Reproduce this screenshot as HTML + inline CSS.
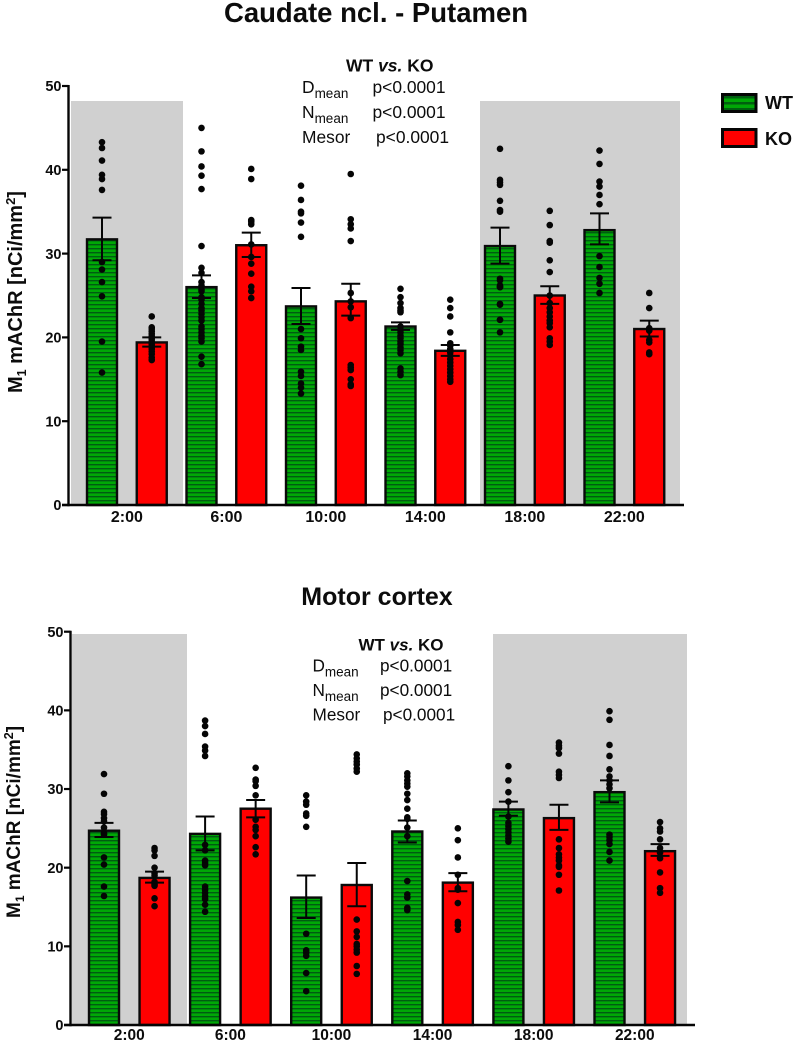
<!DOCTYPE html>
<html lang="en">
<head>
<meta charset="utf-8">
<title>M1 mAChR binding in WT and KO</title>
<style>
html,body{margin:0;padding:0;background:#fff}
svg{display:block}
text{font-family:"Liberation Sans",Arial,sans-serif;fill:#0c0c0c}
.b{font-weight:bold}
</style>
</head>
<body>
<svg id="fig" xmlns="http://www.w3.org/2000/svg" width="796" height="1042" viewBox="0 0 796 1042">
<defs>
<pattern id="stripes" patternUnits="userSpaceOnUse" width="8" height="4">
<rect width="8" height="4" fill="#00a806"/>
<rect width="8" height="1.4" fill="#005c12"/>
</pattern>
<pattern id="stripes-legend" patternUnits="userSpaceOnUse" width="8" height="6" y="96">
<rect width="8" height="6" fill="#00a806"/>
<rect width="8" height="2.5" fill="#00600f"/>
</pattern>
</defs>
<g id="top-chart"></g>
<g id="bottom-chart"></g>

<text class="b" x="376" y="22" text-anchor="middle" font-size="27.5">Caudate ncl. - Putamen</text>
<text class="b" x="377" y="605" text-anchor="middle" font-size="25">Motor cortex</text>

<text class="b" transform="translate(22,393) rotate(-90)" font-size="20">M<tspan font-size="12.5" dy="4">1</tspan><tspan dy="-4"> mAChR [nCi/mm</tspan><tspan font-size="13" dy="-7">2</tspan><tspan dy="7">]</tspan></text>
<text class="b" transform="translate(20,918) rotate(-90)" font-size="19">M<tspan font-size="12" dy="4">1</tspan><tspan dy="-4"> mAChR [nCi/mm</tspan><tspan font-size="12.5" dy="-7">2</tspan><tspan dy="7">]</tspan></text>

<g font-size="17.4">
<text class="b" x="346" y="71.5" font-size="17.5">WT <tspan font-style="italic">vs.</tspan> KO</text>
<text x="302" y="93">D<tspan font-size="13.5" dy="5">mean</tspan></text><text x="372.5" y="93">p&lt;0.0001</text>
<text x="302" y="118">N<tspan font-size="13.5" dy="5">mean</tspan></text><text x="372.5" y="118">p&lt;0.0001</text>
<text x="302" y="143">Mesor</text><text x="376" y="143">p&lt;0.0001</text>
</g>
<g font-size="17.2">
<text class="b" x="358.5" y="650.5" font-size="17">WT <tspan font-style="italic">vs.</tspan> KO</text>
<text x="312.5" y="671.5">D<tspan font-size="13.5" dy="5">mean</tspan></text><text x="380" y="671.5">p&lt;0.0001</text>
<text x="312.5" y="696">N<tspan font-size="13.5" dy="5">mean</tspan></text><text x="380" y="696">p&lt;0.0001</text>
<text x="312.5" y="720.5">Mesor</text><text x="383" y="720.5">p&lt;0.0001</text>
</g>

<g>
<rect x="722.5" y="94.5" width="33.5" height="17" fill="url(#stripes-legend)" stroke="#050505" stroke-width="3"/>
<text class="b" x="765" y="109" font-size="18">WT</text>
<rect x="722.5" y="129.5" width="33.5" height="17" fill="#ff0000" stroke="#050505" stroke-width="3"/>
<text class="b" x="765" y="145" font-size="18">KO</text>
</g>
</svg>

<script>
const categories = ["2:00", "6:00", "10:00", "14:00", "18:00", "22:00"];
const yTicks = [0, 10, 20, 30, 40, 50];

/* Caudate ncl. - Putamen */
const cpWtMeans = [31.7, 26.0, 23.7, 21.3, 30.9, 32.8];
const cpKoMeans = [19.4, 31.0, 24.3, 18.4, 25.0, 21.0];
const cpWtErrUpper = [34.3, 27.4, 25.9, 21.8, 33.1, 34.8];
const cpWtErrLower = [29.2, 24.7, 21.6, 20.9, 28.8, 31.1];
const cpKoErrUpper = [20.0, 32.5, 26.4, 19.1, 26.1, 22.0];
const cpKoErrLower = [18.9, 29.6, 22.6, 17.8, 24.0, 20.1];
const cpWtDots = [
  [43.3,42.6,41.1,39.4,38.9,37.6,29.0,28.1,26.6,24.9,19.5,15.8],
  [45.0,42.2,40.4,39.3,37.7,30.9,28.3,27.7,26.6,26.2,25.7,25.5,24.8,24.5,24.0,23.5,23.2,22.8,22.4,22.0,21.3,21.0,20.6,20.2,19.9,19.5,17.7,16.8],
  [38.1,36.4,35.0,34.8,33.7,32.0,21.0,19.9,18.9,18.5,15.9,15.4,14.5,14.0,13.3],
  [25.8,24.8,24.1,23.5,23.2,23.0,21.3,20.9,20.6,20.2,19.9,19.5,19.2,18.8,18.5,18.1,16.3,15.9,15.5],
  [42.5,38.8,38.5,38.2,36.3,35.2,35.0,27.0,26.2,26.0,24.0,22.1,26.8,26.0,23.9,22.1,20.6],
  [42.3,40.7,38.6,38.0,37.0,35.9,29.7,28.4,27.1,26.4,25.3]
];
const cpKoDots = [
  [22.5,21.2,21.0,20.7,20.4,20.1,19.8,19.5,19.2,18.9,18.6,18.3,18.0,17.6,17.3],
  [40.1,38.9,34.0,33.8,33.5,31.1,29.6,28.8,27.6,26.05,25.5,24.7],
  [39.5,34.1,33.5,33.0,31.5,25.3,24.3,23.6,22.3,16.7,16.4,16.1,15.0,14.4,14.2],
  [24.5,23.5,22.5,20.6,19.3,19.0,18.6,18.2,17.8,17.4,17.0,16.6,16.2,15.8,15.4,15.0,14.7],
  [35.1,33.4,31.5,31.3,29.2,27.8,25.0,24.1,23.5,23.0,22.5,22.0,21.7,21.2,19.9,19.5,19.1],
  [25.3,23.5,21.1,20.8,19.7,19.4,18.2,18.0]
];

/* Motor cortex */
const mcWtMeans = [24.7, 24.3, 16.2, 24.6, 27.4, 29.6];
const mcKoMeans = [18.7, 27.5, 17.8, 18.1, 26.3, 22.1];
const mcWtErrUpper = [25.7, 26.5, 19.0, 26.0, 28.4, 31.1];
const mcWtErrLower = [23.9, 22.2, 13.6, 23.2, 26.6, 28.3];
const mcKoErrUpper = [19.5, 28.6, 20.6, 19.3, 28.0, 23.0];
const mcKoErrLower = [18.1, 26.4, 15.1, 17.0, 24.8, 21.5];
const mcWtDots = [
  [31.9,29.4,27.1,26.8,26.3,25.9,25.1,24.4,24.2,21.3,20.4,17.6,16.4],
  [38.7,38.0,37.0,35.4,34.9,34.2,22.9,22.2,20.9,20.6,20.3,17.6,17.2,16.8,16.4,16.0,15.3,14.4],
  [29.2,28.4,28.0,26.9,26.6,25.2,11.6,9.5,9.2,8.8,6.6,4.3],
  [32.0,31.6,31.1,30.7,30.3,29.4,28.6,27.5,26.4,26.2,25.1,24.0,18.3,16.6,16.2,14.9,14.6],
  [32.9,31.1,29.6,28.4,26.5,25.7,25.3,24.9,24.5,24.1,23.7,23.3],
  [39.9,38.8,35.6,34.2,32.5,31.6,31.1,30.6,30.1,24.2,23.9,23.5,23.0,22.0,20.9]
];
const mcKoDots = [
  [22.5,22.2,21.5,20.0,19.3,19.0,18.2,17.9,17.7,16.1,15.1],
  [32.7,31.2,31.0,30.4,29.2,26.1,25.2,24.8,24.0,22.6,21.7],
  [34.4,33.9,33.5,33.1,32.6,32.2,13.4,11.9,11.2,10.3,10.0,9.6,9.2,7.5,6.5],
  [25.0,23.5,21.3,19.1,17.4,17.2,15.5,13.1,12.7,12.1],
  [35.9,35.5,35.2,34.5,32.2,31.8,31.4,23.6,22.5,21.7,21.3,20.9,20.3,20.1,19.1,17.1],
  [25.8,25.0,24.6,23.6,22.5,21.9,21.2,19.4,17.4,16.8]
];

const SVGNS = "http://www.w3.org/2000/svg";
function node(parent, tag, attrs) {
  const el = document.createElementNS(SVGNS, tag);
  for (const k in attrs) el.setAttribute(k, attrs[k]);
  parent.appendChild(el);
  return el;
}

function drawChart(root, cfg, wtMeans, koMeans, wtUp, wtLo, koUp, koLo, wtDots, koDots) {
  const yScale = v => cfg.y0 - v * cfg.pxPerUnit;
  const xScale = (i, s) => cfg.x0 + (i * 2 + s) * cfg.step;

  cfg.bands.forEach(function (b) {
    const band = node(root, "rect", {x: b[0], y: cfg.bandTop, width: b[1] - b[0], height: cfg.y0 - cfg.bandTop, fill: "#d0d0d0"});
    
    
  });

  const series = [
    {key: "wt", fill: "url(#stripes)", means: wtMeans, up: wtUp, lo: wtLo, dots: wtDots, s: 0},
    {key: "ko", fill: "#ff0000", means: koMeans, up: koUp, lo: koLo, dots: koDots, s: 1}
  ];

  series.forEach(function (sr) {
    sr.means.forEach(function (m, i) {
      const cx = xScale(i, sr.s);
      const bar = node(root, "rect", {x: cx - 15, y: yScale(m), width: 30, height: cfg.y0 - yScale(m), fill: sr.fill, stroke: "#0a0a0a", "stroke-width": 2.4});
      
      
    });
  });

  series.forEach(function (sr) {
    sr.means.forEach(function (m, i) {
      const cx = xScale(i, sr.s);
      sr.dots[i].forEach(function (d) {
        const dot = node(root, "circle", {cx: cx, cy: yScale(d), r: 3.3, fill: "#050505"});
        
        
      });
      const top = yScale(sr.up[i]), bot = yScale(sr.lo[i]);
      const err = node(root, "path", {
        d: "M" + (cx - 9.5) + " " + top + "H" + (cx + 9.5) + "M" + cx + " " + top + "V" + bot + "M" + (cx - 9.5) + " " + bot + "H" + (cx + 9.5),
        stroke: "#050505", "stroke-width": 2, fill: "none"
      });
      
      
    });
  });

  const yAxis = node(root, "line", {x1: cfg.axisX, x2: cfg.axisX, y1: yScale(50) - 1, y2: cfg.y0 + 1.2, stroke: "#050505", "stroke-width": 2.4});
  
  
  const xAxis = node(root, "line", {x1: cfg.axisX - 6.5, x2: cfg.axisEnd, y1: cfg.y0, y2: cfg.y0, stroke: "#050505", "stroke-width": 2.4});
  
  

  yTicks.forEach(function (t) {
    const tick = node(root, "line", {x1: cfg.axisX - 6.5, x2: cfg.axisX, y1: yScale(t), y2: yScale(t), stroke: "#050505", "stroke-width": 2.2});
    
    
    const lab = node(root, "text", {x: cfg.axisX - 7, y: yScale(t) + 5.2, "text-anchor": "end", "font-size": 14.5, "font-weight": "bold"});
    
    
    lab.textContent = t;
  });

  categories.forEach(function (c, i) {
    const lab = node(root, "text", {x: (xScale(i, 0) + xScale(i, 1)) / 2, y: cfg.labelY, "text-anchor": "middle", "font-size": cfg.labelSize, "font-weight": "bold"});
    
    
    lab.textContent = c;
  });
}

drawChart(document.getElementById("top-chart"),
  {y0: 505, pxPerUnit: 8.38, x0: 102, step: 49.75, axisX: 68.5, axisEnd: 684, bandTop: 101, bands: [[71, 183], [480, 680]], labelY: 522, labelSize: 16},
  cpWtMeans, cpKoMeans, cpWtErrUpper, cpWtErrLower, cpKoErrUpper, cpKoErrLower, cpWtDots, cpKoDots);

drawChart(document.getElementById("bottom-chart"),
  {y0: 1025, pxPerUnit: 7.866, x0: 104, step: 50.55, axisX: 70.5, axisEnd: 695, bandTop: 634, bands: [[72, 187], [493, 687]], labelY: 1040, labelSize: 15.5},
  mcWtMeans, mcKoMeans, mcWtErrUpper, mcWtErrLower, mcKoErrUpper, mcKoErrLower, mcWtDots, mcKoDots);
</script>
</body>
</html>
